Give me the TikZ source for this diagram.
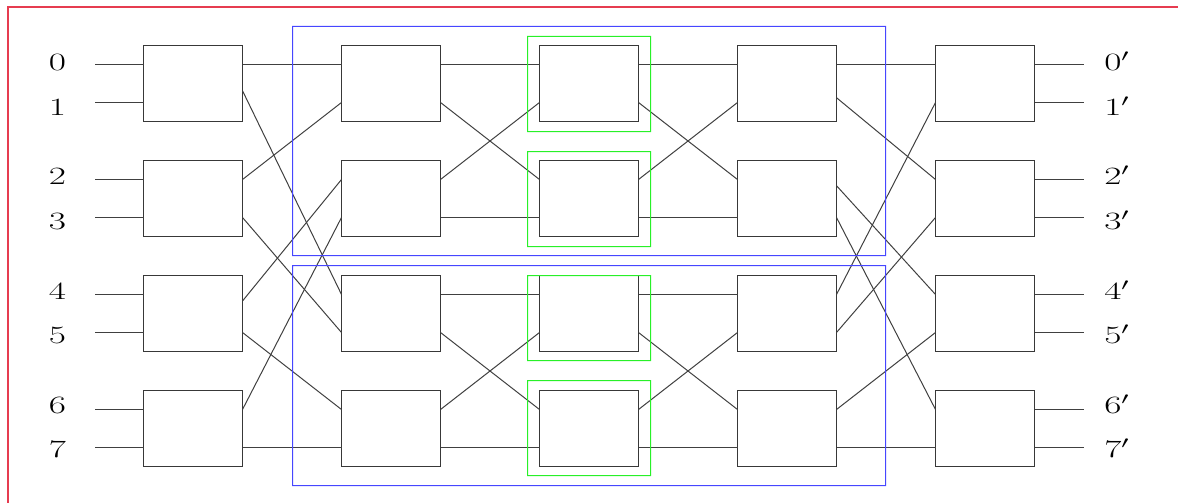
\documentclass[tikz,border=0pt]{standalone}
\usetikzlibrary{calc}
\definecolor{framered}{RGB}{230,60,80}
\definecolor{grpblue}{RGB}{70,70,255}
\definecolor{subgreen}{RGB}{40,240,40}
\begin{document}
\begin{tikzpicture}[x=1pt,y=-1pt,
  sw/.style={draw=black!78, line width=1pt, fill=white, minimum width=99pt, minimum height=76pt, inner sep=0pt, outer sep=0pt},
  wire/.style={draw=black!75, line width=1pt},
  lbl/.style={font=\fontsize{26}{30}\selectfont, inner sep=0pt, xscale=1.5},
  grp/.style={fill=grpblue, even odd rule},
  sub/.style={fill=subgreen, even odd rule},
  frm/.style={fill=framered}]
\useasboundingbox (0,0) rectangle (1178,503);
% outer frame
\fill[frm] (6.5,503) rectangle (8.5,6.5);
\fill[frm] (6.5,6.5) rectangle (1178,8.5);
% switch boxes
\foreach \c/\x in {1/193,2/391,3/589,4/787,5/985}
  \foreach \r/\y in {0/83.5,1/198.5,2/313.5,3/428.5}
    \node[sw] (b\c\r) at (\x,\y) {};
% inputs and outputs
\foreach \r in {0,...,3} {
  \coordinate (it\r) at ([yshift=19pt,xshift=-48.5pt]b1\r.west);
  \coordinate (ib\r) at ([yshift=-19pt,xshift=-48.5pt]b1\r.west);
  \coordinate (ot\r) at ([yshift=19pt,xshift=49pt]b5\r.east);
  \coordinate (ob\r) at ([yshift=-19pt,xshift=49pt]b5\r.east);
  \draw[wire] (it\r) -- ([yshift=19pt]b1\r.west);
  \draw[wire] (ib\r) -- ([yshift=-19pt]b1\r.west);
  \draw[wire] ([yshift=19pt]b5\r.east) -- (ot\r);
  \draw[wire] ([yshift=-19pt]b5\r.east) -- (ob\r);
}
% gap 1
\draw[wire] ([yshift=19pt]b10.east) -- ([yshift=19pt]b20.west);
\draw[wire] ([yshift=-7.2pt]b10.east) -- ([yshift=19pt]b22.west);
\draw[wire] ([yshift=19pt]b11.east) -- ([yshift=-19pt]b20.west);
\draw[wire] ([yshift=-19pt]b11.east) -- ([yshift=-19pt]b22.west);
\draw[wire] ([yshift=12.5pt]b12.east) -- ([yshift=19pt]b21.west);
\draw[wire] ([yshift=-19pt]b12.east) -- ([yshift=19pt]b23.west);
\draw[wire] ([yshift=19pt]b13.east) -- ([yshift=-19pt]b21.west);
\draw[wire] ([yshift=-19pt]b13.east) -- ([yshift=-19pt]b23.west);
% gaps 2 and 3
\foreach \a/\b in {2/3,3/4}
  \foreach \r/\s in {0/1,2/3} {
    \draw[wire] ([yshift=19pt]b\a\r.east) -- ([yshift=19pt]b\b\r.west);
    \draw[wire] ([yshift=-19pt]b\a\r.east) -- ([yshift=19pt]b\b\s.west);
    \draw[wire] ([yshift=19pt]b\a\s.east) -- ([yshift=-19pt]b\b\r.west);
    \draw[wire] ([yshift=-19pt]b\a\s.east) -- ([yshift=-19pt]b\b\s.west);
  }
% gap 4
\draw[wire] ([yshift=19pt]b40.east) -- ([yshift=19pt]b50.west);
\draw[wire] ([yshift=-14.2pt]b40.east) -- ([yshift=19pt]b51.west);
\draw[wire] ([yshift=12.8pt]b41.east) -- ([yshift=19pt]b52.west);
\draw[wire] ([yshift=-19pt]b41.east) -- ([yshift=19pt]b53.west);
\draw[wire] ([yshift=19pt]b42.east) -- ([yshift=-19pt]b50.west);
\draw[wire] ([yshift=-19pt]b42.east) -- ([yshift=-19pt]b51.west);
\draw[wire] ([yshift=19pt]b43.east) -- ([yshift=-19pt]b52.west);
\draw[wire] ([yshift=-19pt]b43.east) -- ([yshift=-19pt]b53.west);
% group frames (thin filled outlines, pixel aligned)
\fill[grp] (292,26) rectangle (886,256) (293,27) rectangle (885,255);
\fill[grp] (292,265) rectangle (886,486) (293,266) rectangle (885,485);
\foreach \ya/\yb in {36/132,151/247,275/361,380/476}
  \fill[sub] (527,\ya) rectangle (651,\yb) (528,\ya+1) rectangle (650,\yb-1);
% labels
\foreach \r in {0,...,3} {
  \pgfmathtruncatemacro{\ta}{2*\r}
  \pgfmathtruncatemacro{\tb}{2*\r+1}
  \node[lbl, anchor=base] (lt\r) at (57.5, 70.7+114.2*\r) {$\ta$};
  \node[lbl, anchor=base] (lb\r) at (57.5, 115.3+114.2*\r) {$\tb$};
  \node[lbl, anchor=base west] (rt\r) at (1104, 70.7+114.2*\r) {$\ta'$};
  \node[lbl, anchor=base west] (rb\r) at (1104, 115.3+114.2*\r) {$\tb'$};
}
\end{tikzpicture}
\end{document}
